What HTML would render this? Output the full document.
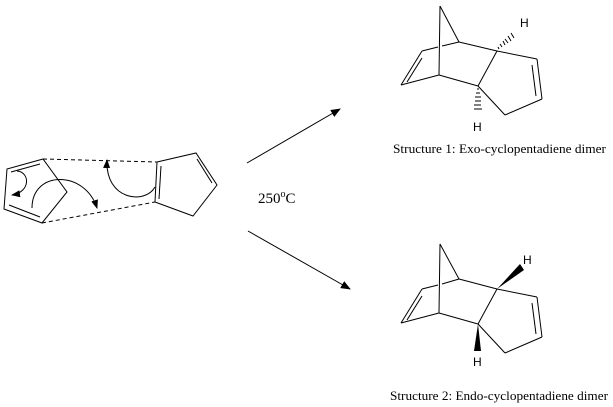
<!DOCTYPE html>
<html><head><meta charset="utf-8"><style>
html,body{margin:0;padding:0;background:#fff;width:613px;height:407px;overflow:hidden}
svg{display:block}
text{font-family:"Liberation Serif",serif;fill:#000}
.h{font-family:"Liberation Sans",sans-serif;font-size:12px}
</style></head><body>
<svg width="613" height="407" viewBox="0 0 613 407" xmlns="http://www.w3.org/2000/svg">
<defs>
<marker id="ah" markerWidth="10" markerHeight="8" refX="9" refY="4" orient="auto" markerUnits="userSpaceOnUse"><path d="M0,0 L10,4 L0,8 Z" fill="#000"/></marker>
<marker id="as" markerWidth="9" markerHeight="7" refX="8" refY="3.5" orient="auto" markerUnits="userSpaceOnUse"><path d="M0,0 L9,3.5 L0,7 Z" fill="#000"/></marker>
</defs>
<g stroke="#000" stroke-width="1" fill="none">
<path d="M43,159 L7,169 L4,209 L42,223 L67,192 Z"/>
<line x1="40" y1="164" x2="11" y2="172"/>
<line x1="9" y1="205" x2="40" y2="217"/>
<path d="M157,162 L196,153 L217,185 L193,216 L155,202 Z"/>
<line x1="161" y1="166" x2="159" y2="199"/>
<line x1="197" y1="159" x2="212" y2="183"/>
<line x1="43" y1="159" x2="157" y2="162" stroke-dasharray="4,3"/>
<line x1="42" y1="223" x2="155" y2="202" stroke-dasharray="4,3"/>
<path d="M17,171 C30,172 31,192 12,195" marker-end="url(#as)"/>
<path d="M32,208 C32,170 85,170 97,208" marker-end="url(#as)"/>
<path d="M155,187 C145,205 105,200 107,160" marker-end="url(#as)"/>
<line x1="247" y1="163" x2="340" y2="109" marker-end="url(#ah)"/>
<line x1="248" y1="231" x2="350" y2="289" marker-end="url(#ah)"/>
<line x1="440" y1="6" x2="459" y2="42"/>
<line x1="440" y1="6" x2="439" y2="75"/>
<line x1="422" y1="51" x2="438" y2="47"/>
<line x1="442" y1="46" x2="459" y2="42"/>
<line x1="422" y1="51" x2="401" y2="85"/>
<line x1="422" y1="58" x2="407" y2="82"/>
<line x1="401" y1="85" x2="439" y2="75"/>
<line x1="439" y1="75" x2="478" y2="86"/>
<line x1="459" y1="42" x2="497" y2="51"/>
<line x1="478" y1="86" x2="497" y2="51"/>
<line x1="497" y1="51" x2="537" y2="59"/>
<line x1="537" y1="59" x2="542" y2="99"/>
<line x1="532" y1="65" x2="536" y2="96"/>
<line x1="542" y1="99" x2="505" y2="115"/>
<line x1="505" y1="115" x2="478" y2="86"/>
<path d="M499,49 l-1,-2 M502,47 l-2,-3 M505,45 l-2,-4 M508,43 l-3,-4 M511,41 l-3,-5 M514,38 l-3,-5"/>
<path d="M477,89 h2 M476,93 h4 M475,97 h6 M475,101 h6 M474,105 h7 M474,109 h8"/>
<line x1="440" y1="244" x2="459" y2="279"/>
<line x1="440" y1="244" x2="439" y2="313"/>
<line x1="422" y1="289" x2="438" y2="285"/>
<line x1="442" y1="284" x2="459" y2="279"/>
<line x1="422" y1="289" x2="401" y2="323"/>
<line x1="422" y1="296" x2="407" y2="320"/>
<line x1="401" y1="323" x2="439" y2="313"/>
<line x1="439" y1="313" x2="478" y2="324"/>
<line x1="459" y1="279" x2="497" y2="289"/>
<line x1="478" y1="324" x2="497" y2="289"/>
<line x1="497" y1="289" x2="537" y2="297"/>
<line x1="537" y1="297" x2="542" y2="337"/>
<line x1="532" y1="303" x2="536" y2="334"/>
<line x1="542" y1="337" x2="505" y2="353"/>
<line x1="505" y1="353" x2="478" y2="324"/>
</g>
<path d="M497,289 L520,264 L524,270 Z" fill="#000"/>
<path d="M478,324 L474,351 L481,351 Z" fill="#000"/>
<text class="h" x="520" y="27">H</text>
<text class="h" x="473" y="131">H</text>
<text class="h" x="523" y="264">H</text>
<text class="h" x="473" y="366">H</text>
<text x="258" y="203" font-size="15">250<tspan font-size="10" dy="-6">o</tspan><tspan dy="6">C</tspan></text>
<text x="393" y="153" font-size="13" textLength="213" lengthAdjust="spacingAndGlyphs">Structure 1: Exo-cyclopentadiene dimer</text>
<text x="390" y="400" font-size="13" textLength="218" lengthAdjust="spacingAndGlyphs">Structure 2: Endo-cyclopentadiene dimer</text>
</svg>
</body></html>
